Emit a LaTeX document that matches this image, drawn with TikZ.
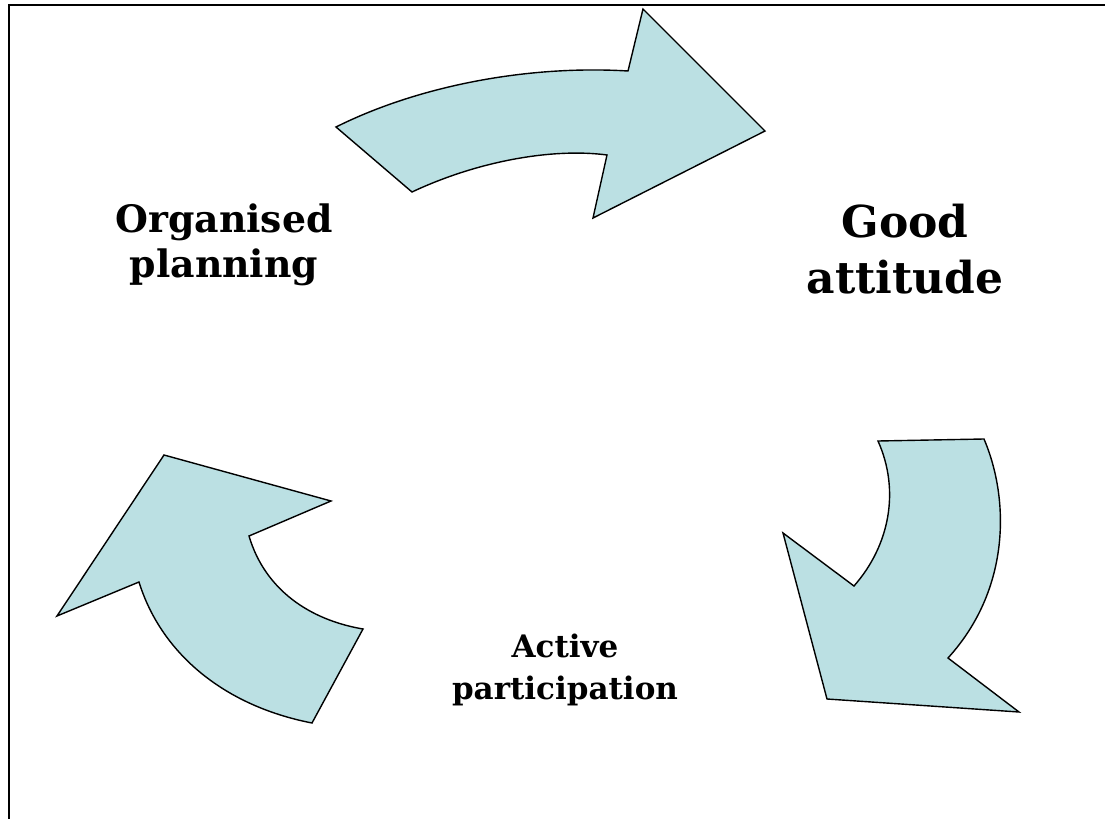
\documentclass[tikz,border=0pt]{standalone}
\usepackage{fontspec}
\setmainfont{DejaVu Serif}
\usepackage{tikz}
\definecolor{arrowfill}{HTML}{BBE0E3}
\tikzset{x=0.5pt,y=-0.5pt}
\tikzset{cyclearrow/.style={draw=black,line width=0.7pt,fill=arrowfill,line join=miter},
         lbl/.style={align=center,font=\bfseries}}

\begin{document}
\begin{tikzpicture}
                \useasboundingbox (0,0) rectangle (1105,819);
                \draw[line width=1pt] (9,819) -- (9,5) -- (1105,5);
                % top arrow
                \draw[cyclearrow] (336,127) .. controls (420,85) and (530,65) .. (628,71)
                    -- (643,9) -- (765,131) -- (593,218) -- (607,155)
                    .. controls (555,148) and (480,160) .. (412,192) -- cycle;
                % right arrow
                \draw[cyclearrow] (878,441) -- (984,439)
                    .. controls (1010,500) and (1010,590) .. (948,658)
                    -- (1019,712) -- (827,699) -- (783,533) -- (854,586)
                    .. controls (890,545) and (900,490) .. (878,441) -- cycle;
                % left arrow
                \draw[cyclearrow] (164,455) -- (331,501) -- (249,536)
                    .. controls (265,590) and (310,620) .. (363,629)
                    -- (312,723) .. controls (220,705) and (160,650) .. (139,582)
                    -- (57,616) -- cycle;
                \node[lbl,font=\bfseries\fontsize{18.9}{22.5}\selectfont] (plan) at (224,245) {Organised\\planning};
                \node[lbl,font=\bfseries\fontsize{22}{28}\selectfont] (att) at (905,249) {Good\\attitude};
                \node[lbl,font=\bfseries\fontsize{15.5}{21}\selectfont] (act) at (565,670) {Active\\participation};
\end{tikzpicture}
\end{document}
